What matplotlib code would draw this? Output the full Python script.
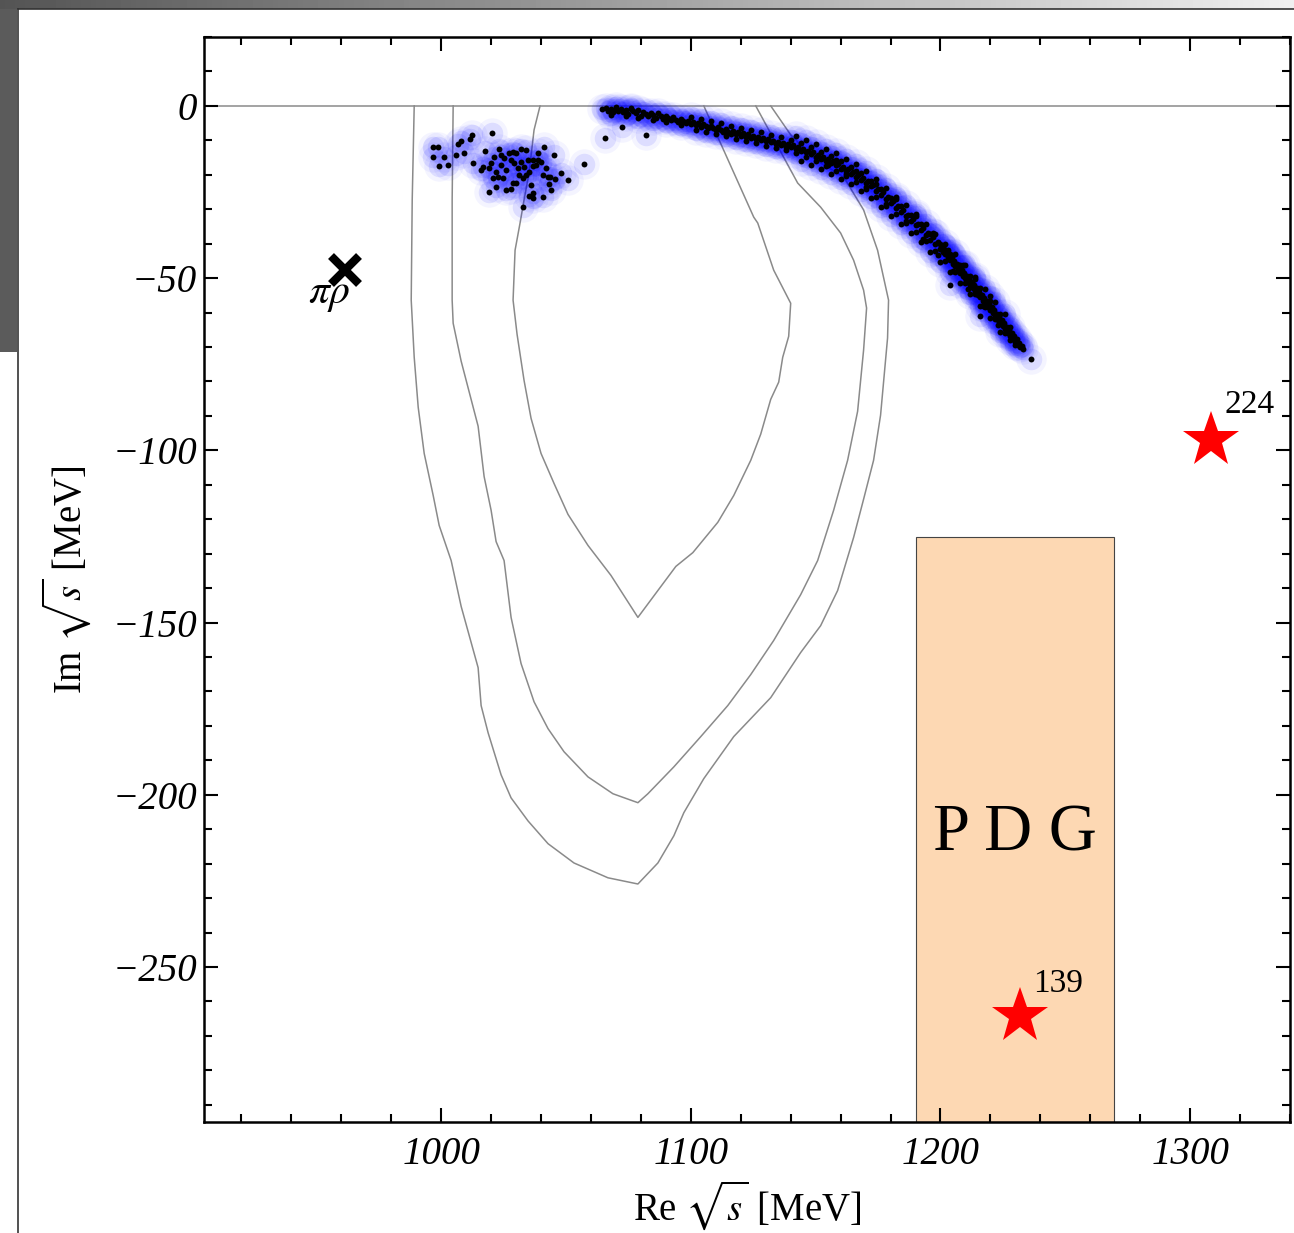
import matplotlib.pyplot as plt
import numpy as np
from matplotlib.ticker import MultipleLocator, FuncFormatter
from matplotlib.patches import Rectangle

plt.rcParams['font.family'] = ['Liberation Serif', 'DejaVu Serif']
plt.rcParams['mathtext.fontset'] = 'stix'

# contornos (Re, Im) en MeV
c_int_re = [1039.6, 1037.2, 1035.2, 1033.2, 1031.6, 1029.6, 1028.8, 1030.4, 1033.2, 1036.0,
            1040.0, 1045.2, 1050.8, 1058.8, 1068.0, 1078.8, 1086.8, 1094.0, 1100.8, 1110.8,
            1117.2, 1124.0, 1128.0, 1132.0, 1135.2, 1136.8, 1139.2, 1140.0, 1133.2, 1126.8,
            1125.2, 1105.2]
c_int_im = [0.0, -7.0, -19.5, -27.3, -34.0, -41.9, -56.4, -66.3, -79.7, -90.7,
            -100.9, -109.6, -118.6, -127.6, -136.3, -148.5, -140.7, -133.7, -129.7, -120.9,
            -113.1, -102.9, -95.3, -85.2, -80.2, -73.0, -66.9, -57.3, -47.7, -34.0,
            -32.3, 0.0]

c_med_re = [1004.8, 1004.4, 1004.4, 1004.8, 1008.0, 1014.8, 1017.2, 1020.0, 1022.0, 1025.2,
            1028.0, 1032.0, 1037.2, 1042.8, 1049.2, 1058.8, 1068.8, 1078.8, 1082.8, 1093.2,
            1104.0, 1114.8, 1124.0, 1133.2, 1144.0, 1150.8, 1157.2, 1162.8, 1166.8, 1169.2,
            1170.4, 1169.2, 1165.2, 1160.0, 1152.0, 1142.8, 1126.0]
c_med_im = [0.0, -27.3, -56.4, -63.1, -74.1, -93.0, -107.6, -117.4, -126.5, -132.0,
            -148.5, -161.9, -173.0, -180.8, -187.5, -194.8, -199.7, -202.3, -199.7, -191.9,
            -183.1, -174.1, -165.1, -155.2, -141.9, -132.0, -117.4, -102.9, -88.7, -70.9,
            -58.7, -53.5, -44.8, -36.9, -29.4, -22.4, 0.0]

c_ext_re = [989.2, 988.4, 988.0, 989.2, 990.8, 993.2, 996.8, 999.2, 1004.0, 1008.0,
            1014.8, 1016.0, 1018.8, 1024.0, 1028.0, 1034.8, 1042.8, 1053.2, 1066.8, 1078.8,
            1086.8, 1093.2, 1097.2, 1105.2, 1117.2, 1132.0, 1144.0, 1152.0, 1158.8, 1165.2,
            1169.2, 1173.2, 1176.0, 1178.8, 1179.2, 1174.8, 1169.2, 1161.2, 1150.0, 1140.0,
            1132.0]
c_ext_im = [0.0, -27.3, -56.4, -73.0, -87.5, -100.9, -113.1, -121.8, -132.0, -145.3,
            -163.1, -174.1, -182.0, -194.2, -200.9, -207.6, -214.2, -219.8, -224.1, -225.9,
            -219.8, -211.9, -205.2, -195.3, -183.1, -171.8, -158.7, -150.9, -140.7, -125.3,
            -114.2, -102.9, -89.8, -67.4, -56.4, -41.9, -30.2, -20.6, -15.7, -8.4,
            0.0]

# nube de polos cerca de 1000-1060 MeV
nube_re = [996.7, 998.7, 996.7, 1001.3, 999.3, 1002.7, 1006.7, 1008.0, 1011.7, 1012.4,
           1006.0, 1009.3, 1012.7, 1020.3, 1017.7, 1016.0, 1016.7, 1019.1, 1022.0, 1023.1,
           1021.3, 1020.0, 1019.3, 1022.0, 1022.7, 1024.0, 1026.0, 1026.0, 1028.0, 1027.3,
           1028.7, 1030.0, 1032.0, 1034.0, 1028.0, 1029.3, 1030.7, 1032.0, 1033.3, 1031.3,
           1032.7, 1034.0, 1035.3, 1036.7, 1034.7, 1036.7, 1038.7, 1038.0, 1040.0, 1038.9,
           1041.3, 1045.3, 1042.0, 1040.7, 1042.7, 1043.7, 1045.6, 1048.0, 1050.7, 1043.3,
           1044.0, 1036.0, 1036.7, 1036.7, 1035.3, 1040.7, 1032.7, 1028.7, 1030.0, 1057.3,
           1024.7, 1020.7, 1025.3, 1024.0]
nube_im = [-12.0, -11.8, -14.9, -14.9, -17.4, -17.2, -11.0, -10.1, -9.7, -8.4,
           -14.2, -13.6, -16.7, -7.8, -13.1, -18.6, -17.8, -25.0, -23.5, -12.5,
           -14.7, -16.7, -18.1, -19.1, -20.6, -17.2, -18.6, -24.4, -24.2, -13.8,
           -13.3, -13.8, -12.6, -12.8, -15.7, -16.7, -18.1, -16.2, -17.6, -20.1,
           -21.0, -20.1, -19.1, -17.4, -15.7, -15.7, -15.7, -17.2, -16.2, -13.6,
           -12.0, -14.2, -18.1, -20.1, -20.7, -20.7, -21.3, -19.4, -21.5, -22.7,
           -24.4, -23.0, -25.4, -26.8, -26.2, -26.5, -29.3, -22.5, -22.5, -16.9,
           -21.0, -21.0, -15.2, -14.2]

# arco de polos 1065-1236 MeV
arco_re = [1064.5, 1066, 1067, 1068, 1069, 1070, 1071, 1072, 1073, 1074,
           1075, 1076, 1077, 1078, 1079, 1080, 1081, 1082, 1083, 1084,
           1085, 1086, 1087, 1088, 1089, 1090, 1091, 1092, 1093, 1094,
           1095, 1096, 1097, 1098, 1099, 1100,
           1101, 1102, 1103, 1104, 1105, 1106, 1107, 1108, 1109, 1110,
           1111, 1112, 1113, 1114, 1115, 1116, 1117, 1118, 1119, 1120,
           1121, 1122, 1123, 1124, 1125, 1126, 1127, 1128, 1129, 1130,
           1131, 1132, 1133, 1134, 1135, 1136, 1137, 1138, 1139, 1140,
           1141, 1142, 1143, 1144, 1145, 1146, 1147, 1148, 1149, 1150,
           1151, 1152, 1153, 1154, 1155, 1156, 1157, 1158, 1159, 1160,
           1161, 1162, 1163, 1164, 1165, 1166, 1167, 1168, 1169, 1170,
           1171, 1172, 1173, 1174, 1175, 1176, 1177, 1178, 1179, 1180,
           1181, 1182, 1183, 1184, 1185, 1186, 1187, 1188, 1189, 1190,
           1191, 1192, 1193, 1194, 1195, 1196, 1197, 1198, 1199, 1200,
           1200.5, 1201, 1201.5, 1202, 1202.5, 1203, 1203.5, 1204, 1204.5, 1205,
           1205.5, 1206, 1206.5, 1207, 1207.5, 1208, 1208.5, 1209, 1209.5, 1210,
           1210.5, 1211, 1211.5, 1212, 1212.5, 1213, 1213.5, 1214, 1214.5, 1215,
           1215.5, 1216, 1216.5, 1217, 1217.5, 1218, 1218.5, 1219, 1219.5, 1220,
           1220.5, 1221, 1221.5, 1222, 1222.5, 1223, 1223.5, 1224, 1224.5, 1225,
           1225.5, 1226, 1226.5, 1227, 1227.5, 1228, 1228.5, 1229, 1229.5, 1230,
           1230.5, 1231, 1231.5, 1232, 1232.5, 1233,
           1155, 1162, 1170, 1178, 1186, 1193, 1199, 1205, 1211, 1217, 1223, 1228,
           1158, 1166, 1174, 1182, 1190, 1197, 1203, 1209, 1214, 1220, 1226,
           1204, 1216, 1236.4, 1065.6, 1072.4, 1082]
arco_im = [-1.0, -0.6, -1.4, -0.9, -1.8, -1.0, -1.5, -0.8, -1.9, -1.2,
           -2.4, -1.0, -1.6, -2.2, -1.3, -2.8, -1.7, -2.3, -3.0, -2.0,
           -2.6, -3.4, -2.2, -3.0, -3.8, -2.9, -3.5, -4.2, -3.3, -4.0,
           -4.6, -3.8, -4.4, -5.0, -4.3, -5.3,
           -4.6, -5.6, -5.0, -6.0, -5.3, -5.9, -6.5, -5.7, -6.4, -7.0,
           -6.2, -6.9, -7.5, -6.8, -7.6, -8.1, -7.3, -8.2, -7.7, -8.6,
           -8.0, -8.9, -8.3, -9.2, -8.6, -9.5, -9.0, -10.0, -9.3, -10.3,
           -9.7, -10.6, -10.1, -11.0, -10.4, -11.3, -10.8, -11.8, -11.2, -12.0,
           -11.4, -12.5, -12.0, -13.0, -12.4, -13.5, -13.0, -14.1, -13.5, -14.7,
           -14.2, -15.3, -14.9, -16.0, -15.4, -16.7, -16.1, -17.3, -16.8, -18.2,
           -17.6, -18.9, -18.3, -19.8, -19.1, -20.6, -20.0, -21.5, -20.9, -22.5,
           -21.8, -23.4, -22.9, -24.6, -24.0, -25.8, -25.1, -27.0, -26.4, -28.2,
           -27.7, -29.5, -29.0, -30.8, -30.2, -32.0, -31.6, -33.4, -32.8, -34.7,
           -34.2, -36.0, -35.5, -37.4, -36.9, -38.8, -38.2, -40.1, -39.6, -41.6,
           -40.9, -42.4, -41.5, -43.0, -42.2, -44.0, -43.0, -44.7, -43.9, -45.8,
           -44.9, -46.6, -45.8, -47.5, -46.6, -48.4, -47.5, -49.3, -48.4, -50.1,
           -49.3, -51.0, -50.2, -51.9, -51.1, -52.9, -52.0, -53.8, -52.9, -54.8,
           -53.9, -55.6, -54.8, -56.5, -55.7, -57.4, -56.6, -58.4, -57.5, -59.3,
           -58.5, -60.2, -59.4, -61.2, -60.3, -62.1, -61.2, -63.0, -62.2, -64.0,
           -63.1, -64.9, -64.1, -65.8, -65.0, -66.7, -65.9, -67.6, -66.9, -68.5,
           -67.8, -69.3, -68.7, -70.0, -69.6, -70.6,
           -17.2, -19.9, -23.6, -28.4, -33.5, -38.6, -43.2, -48.0, -53.1, -58.2, -63.6, -68.1,
           -15.6, -18.9, -22.8, -27.0, -32.0, -36.9, -41.7, -46.3, -50.4, -55.3, -60.4,
           -52.0, -61.0, -73.5, -9.4, -6.0, -8.4]

# bordes superior e inferior del arco
arco_sup_re = [1068, 1070, 1074, 1076, 1079, 1085, 1090, 1096,
               1100, 1104, 1108, 1112, 1116, 1120, 1124, 1128, 1132, 1136, 1140,
               1144, 1148, 1152, 1156, 1160, 1164, 1168, 1172, 1176, 1180, 1184,
               1188, 1192, 1196, 1200, 1204, 1208, 1212, 1216, 1220, 1224, 1228]
arco_sup_im = [-2.6, -0.4, -3.0, -0.5, -3.5, -4.2, -4.8, -5.6,
               -3.3, -3.8, -4.3, -5.0, -5.7, -6.3, -7.0, -7.7, -8.4, -9.0, -9.8,
               -10.8, -12.0, -13.3, -14.6, -16.1, -17.7, -19.5, -21.7, -24.1, -26.8, -29.2,
               -31.8, -34.4, -37.2, -40.1, -43.1, -46.2, -49.5, -52.9, -56.6, -60.3, -64.1]
arco_inf_re = [1102, 1106, 1110, 1114, 1118, 1122, 1126, 1130, 1134, 1138,
               1142, 1146, 1150, 1154, 1158, 1162, 1166, 1170, 1174, 1178,
               1182, 1186, 1190, 1194, 1198, 1202, 1206, 1210, 1214, 1218,
               1222, 1226, 1230]
arco_inf_im = [-7.0, -7.5, -8.1, -8.8, -9.5, -10.1, -10.8, -11.6, -12.2, -12.9,
               -13.8, -14.9, -16.1, -17.5, -18.9, -20.4, -22.1, -24.0, -26.4, -29.0,
               -31.5, -34.0, -36.6, -39.3, -42.2, -45.1, -48.1, -51.3, -54.7, -58.3,
               -62.0, -65.8, -69.3]
arco_sup2_re = [1142, 1146, 1150, 1154, 1158, 1162, 1166, 1170, 1174, 1178,
                1182, 1186, 1190, 1194, 1198, 1202, 1206, 1210, 1214, 1218, 1222]
arco_sup2_im = [-8.7, -9.8, -11.0, -12.4, -13.8, -15.3, -17.0, -18.9, -21.3, -23.9,
                -26.4, -28.9, -31.5, -34.2, -37.1, -40.0, -43.0, -46.2, -49.6, -53.2, -56.9]
arco_inf2_re = [1144, 1148, 1152, 1156, 1160, 1164, 1168, 1172, 1176, 1180,
                1184, 1188, 1192, 1196, 1200, 1204, 1208, 1212, 1216, 1220, 1224]
arco_inf2_im = [-15.9, -17.1, -18.4, -19.8, -21.2, -22.8, -24.6, -26.8, -29.3, -31.9,
                -34.3, -36.9, -39.6, -42.3, -45.2, -48.2, -51.3, -54.6, -58.0, -61.7, -65.5]

# referencias
pipi_re, pipi_im = 961.6, -47.7
estrellas_re = [1308.4, 1232.0]
estrellas_im = [-97.1, -264.2]
estrellas_txt = ['224', '139']
estrellas_txt_pos = [(1324.0, -86.9), (1247.2, -254.9)]
pdg_re = (1190.0, 1269.6)
pdg_im_top = -125.3

W, H = 1294, 1233
fig = plt.figure(figsize=(W / 100, H / 100), dpi=100)

# marco de la captura
barra = fig.add_axes([0, 1 - 9 / H, 1, 9 / H])
grad = np.linspace(0.33, 0.94, 256)
barra.imshow(np.vstack([grad, grad]), cmap='gray', vmin=0, vmax=1, aspect='auto')
barra.axis('off')
fig.add_artist(Rectangle((0, 1 - 352 / H), 17 / W, 343 / H, transform=fig.transFigure,
                         color='#5b5b5b', lw=0))
fig.add_artist(plt.Line2D([17.5 / W, 17.5 / W], [0, 1 - 9 / H], transform=fig.transFigure,
                          color='#333333', lw=1.2))
fig.add_artist(plt.Line2D([17.5 / W, 1], [1 - 9 / H, 1 - 9 / H], transform=fig.transFigure,
                          color='#333333', lw=1.2))

ax = fig.add_axes([204 / W, 1 - 1122 / H, (1290 - 204) / W, (1122 - 37) / H])
ax.set_xlim(905, 1340)
ax.set_ylim(-295, 20)

ax.axhline(0, color='#8a8a8a', lw=1.1, zorder=1)
for cr, ci in [(c_int_re, c_int_im), (c_med_re, c_med_im), (c_ext_re, c_ext_im)]:
    ax.plot(cr, ci, color='#8a8a8a', lw=1.1, zorder=2)

ax.add_patch(Rectangle((pdg_re[0], -310), pdg_re[1] - pdg_re[0], pdg_im_top + 310,
                       facecolor='#fdd8b3', edgecolor='#444444', lw=0.8, zorder=1))
ax.text(sum(pdg_re) / 2, -211.3, 'P D G', fontsize=48, ha='center', va='center', zorder=3)

todos_re = nube_re + arco_re + arco_sup_re + arco_inf_re + arco_sup2_re + arco_inf2_re
todos_im = nube_im + arco_im + arco_sup_im + arco_inf_im + arco_sup2_im + arco_inf2_im
ax.scatter(todos_re, todos_im, s=480, color='blue', alpha=0.045, lw=0, zorder=3)
ax.scatter(todos_re, todos_im, s=240, color='blue', alpha=0.09, lw=0, zorder=3)
ax.scatter(todos_re, todos_im, s=18, color='black', lw=0, zorder=4)

ax.plot(pipi_re, pipi_im, marker='x', color='black', ms=20, mew=6, zorder=5)
ax.text(pipi_re - 6.4, pipi_im - 7.2, r'$\pi\rho$', fontsize=30, ha='center', va='center')

ax.plot(estrellas_re, estrellas_im, ls='none', marker='*', color='red', ms=42, mew=0, zorder=5)
for t, (tx, ty) in zip(estrellas_txt, estrellas_txt_pos):
    ax.text(tx, ty, t, fontsize=24, ha='center', va='center', zorder=6)

ax.xaxis.set_major_locator(MultipleLocator(100))
ax.xaxis.set_minor_locator(MultipleLocator(20))
ax.yaxis.set_major_locator(MultipleLocator(50))
ax.yaxis.set_minor_locator(MultipleLocator(10))
ax.yaxis.set_major_formatter(FuncFormatter(lambda v, p: '0' if v == 0 else ('\u2212' + str(int(abs(v))) if v < 0 else str(int(v)))))
ax.xaxis.set_major_formatter(FuncFormatter(lambda v, p: str(int(v))))
ax.tick_params(which='both', direction='in', top=True, right=True, width=1.5)
ax.tick_params(which='major', length=10)
ax.tick_params(which='minor', length=6)
ax.tick_params(axis='x', pad=10)
ax.tick_params(axis='y', pad=5)
for lab in ax.get_xticklabels() + ax.get_yticklabels():
    lab.set_fontstyle('italic')
    lab.set_fontsize(28)
for sp in ax.spines.values():
    sp.set_linewidth(1.8)

ax.set_xlabel(r'Re $\sqrt{s}$ [MeV]', fontsize=28, labelpad=4)
ax.set_ylabel(r'Im $\sqrt{s}$ [MeV]', fontsize=28, labelpad=14)

fig.savefig('out.png', dpi=100)
